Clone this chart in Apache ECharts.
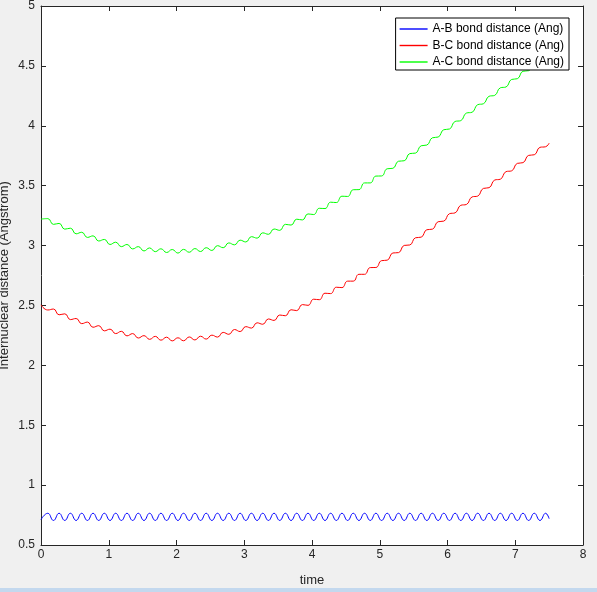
<!DOCTYPE html>
<html>
<head>
<meta charset="utf-8">
<script src="https://cdn.jsdelivr.net/npm/echarts@6/dist/echarts.min.js"></script>
<style>
  html, body { margin: 0; padding: 0; background: #f0f0f0; }
  #main { width: 597px; height: 592px; }
</style>
</head>
<body>
<div id="main"></div>
<script>
// sample times (peaks / troughs of the A-B vibration)
var time = [0, 0.100, 0.184, 0.267, 0.351, 0.434, 0.518, 0.601, 0.685, 0.768,
  0.852, 0.935, 1.019, 1.102, 1.186, 1.269, 1.353, 1.436, 1.520, 1.603,
  1.687, 1.770, 1.854, 1.937, 2.021, 2.104, 2.188, 2.271, 2.355, 2.438,
  2.522, 2.605, 2.689, 2.772, 2.856, 2.939, 3.023, 3.106, 3.190, 3.273,
  3.357, 3.440, 3.524, 3.607, 3.691, 3.774, 3.858, 3.941, 4.025, 4.108,
  4.192, 4.275, 4.359, 4.442, 4.526, 4.609, 4.693, 4.776, 4.860, 4.943,
  5.027, 5.110, 5.194, 5.277, 5.361, 5.444, 5.528, 5.611, 5.695, 5.778,
  5.862, 5.945, 6.029, 6.112, 6.196, 6.279, 6.363, 6.446, 6.530, 6.613,
  6.697, 6.780, 6.864, 6.947, 7.031, 7.114, 7.198, 7.281, 7.365, 7.448, 7.5];

var abDist = [0.712, 0.765, 0.705, 0.765, 0.705, 0.765, 0.705, 0.765, 0.705, 0.765,
  0.705, 0.765, 0.705, 0.765, 0.705, 0.765, 0.705, 0.765, 0.705, 0.765,
  0.705, 0.765, 0.705, 0.765, 0.705, 0.765, 0.705, 0.765, 0.705, 0.765,
  0.705, 0.765, 0.705, 0.765, 0.705, 0.765, 0.705, 0.765, 0.705, 0.765,
  0.705, 0.765, 0.705, 0.765, 0.705, 0.765, 0.705, 0.765, 0.705, 0.765,
  0.705, 0.765, 0.705, 0.765, 0.705, 0.765, 0.705, 0.765, 0.705, 0.765,
  0.705, 0.765, 0.705, 0.765, 0.705, 0.765, 0.705, 0.765, 0.705, 0.765,
  0.705, 0.765, 0.705, 0.765, 0.705, 0.765, 0.705, 0.765, 0.705, 0.765,
  0.705, 0.765, 0.705, 0.765, 0.705, 0.765, 0.705, 0.765, 0.705, 0.765, 0.72];

var bcDist = [2.505, 2.462, 2.470, 2.422, 2.430, 2.382, 2.391, 2.348, 2.361, 2.318,
  2.331, 2.288, 2.302, 2.265, 2.284, 2.246, 2.265, 2.228, 2.248, 2.217,
  2.242, 2.210, 2.235, 2.204, 2.230, 2.205, 2.237, 2.212, 2.243, 2.219,
  2.252, 2.236, 2.275, 2.259, 2.299, 2.282, 2.323, 2.311, 2.355, 2.343,
  2.387, 2.375, 2.420, 2.414, 2.464, 2.457, 2.507, 2.501, 2.552, 2.548,
  2.602, 2.599, 2.652, 2.649, 2.703, 2.703, 2.760, 2.760, 2.816, 2.817,
  2.874, 2.878, 2.938, 2.941, 3.001, 3.005, 3.065, 3.070, 3.132, 3.137,
  3.199, 3.204, 3.266, 3.273, 3.336, 3.343, 3.406, 3.413, 3.477, 3.483,
  3.547, 3.554, 3.617, 3.624, 3.686, 3.692, 3.753, 3.758, 3.820, 3.825, 3.855];

var acDist = [3.221, 3.225, 3.177, 3.185, 3.137, 3.145, 3.098, 3.111, 3.068, 3.081,
  3.038, 3.051, 3.009, 3.028, 2.991, 3.009, 2.972, 2.991, 2.955, 2.980,
  2.949, 2.973, 2.942, 2.967, 2.937, 2.968, 2.944, 2.975, 2.950, 2.982,
  2.959, 2.999, 2.982, 3.022, 3.006, 3.045, 3.030, 3.074, 3.062, 3.106,
  3.094, 3.138, 3.127, 3.177, 3.171, 3.220, 3.214, 3.264, 3.259, 3.311,
  3.309, 3.362, 3.359, 3.412, 3.410, 3.466, 3.467, 3.523, 3.523, 3.580,
  3.581, 3.641, 3.645, 3.704, 3.708, 3.768, 3.772, 3.833, 3.839, 3.900,
  3.906, 3.967, 3.973, 4.036, 4.043, 4.106, 4.113, 4.176, 4.184, 4.246,
  4.254, 4.317, 4.324, 4.387, 4.393, 4.455, 4.460, 4.521, 4.527, 4.588, 4.59];

var seriesNames = ['A-B bond distance (Ang)', 'B-C bond distance (Ang)', 'A-C bond distance (Ang)'];
var seriesColors = ['#0000ff', '#ff0000', '#00ff00'];

function pairs(vals) {
  return time.map(function (t, i) { return [t, vals[i]]; });
}

var axisColor = '#262626';
var font = 'Liberation Sans, Arial, Helvetica, sans-serif';

var myChart = echarts.init(document.getElementById('main'));

function boxAxis(pos, min, max, interval, extra) {
  var a = {
    type: 'value',
    position: pos,
    min: min,
    max: max,
    interval: interval,
    axisLine: { show: true, onZero: false, lineStyle: { color: axisColor, width: 1 } },
    axisTick: { show: true, inside: true, length: 5, lineStyle: { color: axisColor, width: 1 } },
    splitLine: { show: false },
    axisLabel: { show: false }
  };
  for (var k in extra) a[k] = extra[k];
  return a;
}

var option = {
  backgroundColor: '#f0f0f0',
  animation: false,
  textStyle: { fontFamily: font },
  grid: {
    left: 41, right: 14, top: 6, bottom: 47,
    containLabel: false,
    outerBoundsMode: 'none',
    show: true,
    backgroundColor: '#ffffff',
    borderWidth: 0
  },
  legend: {
    orient: 'vertical',
    right: 28,
    top: 18,
    data: seriesNames.map(function (n, i) {
      return { name: n, icon: 'rect', itemStyle: { color: seriesColors[i], borderWidth: 0, opacity: 1 } };
    }),
    itemWidth: 28,
    itemHeight: 1.4,
    itemGap: 4.5,
    padding: [5, 5, 2, 4],
    backgroundColor: '#ffffff',
    borderColor: '#000000',
    borderWidth: 1,
    borderRadius: 0,
    textStyle: { color: '#000000', fontSize: 12, fontFamily: font }
  },
  xAxis: [
    boxAxis('bottom', 0, 8, 1, {
      name: 'time',
      nameLocation: 'middle',
      nameGap: 29,
      nameMoveOverlap: false,
      nameTextStyle: { color: axisColor, fontSize: 13, fontFamily: font },
      axisLabel: { show: true, color: axisColor, fontSize: 12, margin: 4, fontFamily: font }
    }),
    boxAxis('top', 0, 8, 1, {})
  ],
  yAxis: [
    boxAxis('left', 0.5, 5, 0.5, {
      name: 'Internuclear distance (Angstrom)',
      nameLocation: 'middle',
      nameGap: 30,
      nameMoveOverlap: false,
      nameTextStyle: { color: axisColor, fontSize: 13, fontFamily: font },
      axisLabel: { show: true, color: axisColor, fontSize: 12, margin: 6, fontFamily: font }
    }),
    boxAxis('right', 0.5, 5, 0.5, {})
  ],
  graphic: [{
    type: 'rect',
    left: 0,
    bottom: 0,
    shape: { width: 597, height: 4 },
    style: { fill: '#c3d8ee' },
    z: 100
  }],
  series: [abDist, bcDist, acDist].map(function (vals, i) {
    return {
      name: seriesNames[i],
      type: 'line',
      xAxisIndex: 0,
      yAxisIndex: 0,
      data: pairs(vals),
      smooth: 0.5,
      symbol: 'none',
      lineStyle: { color: seriesColors[i], width: 1 },
      itemStyle: { color: seriesColors[i] },
      z: 2
    };
  })
};

myChart.setOption(option);
</script>
</body>
</html>
